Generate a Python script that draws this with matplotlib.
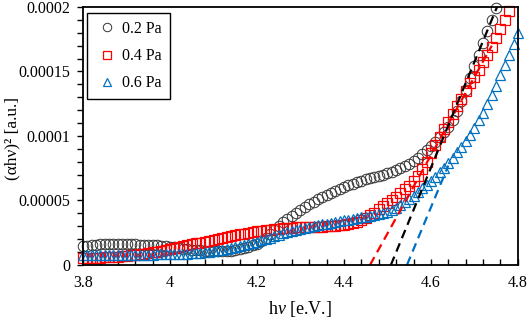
import numpy as np
import matplotlib
matplotlib.use("Agg")
import matplotlib.pyplot as plt
from matplotlib.ticker import MultipleLocator, FixedLocator, FixedFormatter

plt.rcParams['font.family'] = ['Liberation Serif', 'DejaVu Serif']
plt.rcParams['mathtext.fontset'] = 'custom'
plt.rcParams['mathtext.rm'] = 'Liberation Serif'
plt.rcParams['mathtext.it'] = 'Liberation Serif:italic'

# photon energy grid (eV), 0.01 eV steps
hv = np.round(np.arange(3.80, 4.805, 0.01), 2)

# (alpha h nu)^2 in units of 1e-5 a.u.
y_02 = np.array([
    1.45, 1.50, 1.55, 1.58, 1.60, 1.62, 1.63, 1.63, 1.63, 1.62,
    1.61, 1.60, 1.59, 1.58, 1.57, 1.56, 1.55, 1.53, 1.50, 1.45,
    1.40, 1.35, 1.30, 1.26, 1.22, 1.18, 1.15, 1.12, 1.10, 1.08,
    1.06, 1.05, 1.05, 1.07, 1.10, 1.15, 1.21, 1.29, 1.39, 1.51,
    1.65, 1.85, 2.10, 2.40, 2.70, 3.00, 3.30, 3.55, 3.80, 4.05,
    4.28, 4.50, 4.70, 4.90, 5.10, 5.28, 5.45, 5.61, 5.76, 5.90,
    6.03, 6.17, 6.30, 6.42, 6.53, 6.63, 6.73, 6.82, 6.91, 7.00,
    7.10, 7.21, 7.34, 7.49, 7.66, 7.85, 8.07, 8.32, 8.60, 8.90,
    9.22, 9.56, 9.92, 10.3, 10.7, 11.2, 11.9, 12.7, 13.6, 14.5,
    15.4, 16.3, 17.2, 18.1, 19.0, 19.9])

y_04 = np.array([
    0.55, 0.55, 0.56, 0.56, 0.57, 0.58, 0.60, 0.62, 0.64, 0.67,
    0.70, 0.73, 0.77, 0.81, 0.86, 0.91, 0.97, 1.03, 1.10, 1.17,
    1.24, 1.31, 1.38, 1.45, 1.52, 1.59, 1.66, 1.73, 1.80, 1.87,
    1.94, 2.01, 2.08, 2.15, 2.22, 2.29, 2.36, 2.42, 2.48, 2.54,
    2.60, 2.65, 2.70, 2.74, 2.78, 2.81, 2.84, 2.86, 2.88, 2.90,
    2.91, 2.92, 2.93, 2.94, 2.95, 2.96, 2.98, 3.00, 3.03, 3.07,
    3.12, 3.18, 3.26, 3.35, 3.50, 3.65, 3.85, 4.05, 4.30, 4.55,
    4.80, 5.05, 5.30, 5.55, 5.85, 6.15, 6.50, 6.90, 7.40, 8.00,
    8.70, 9.30, 9.90, 10.5, 11.1, 11.7, 12.3, 12.9, 13.5, 14.1,
    14.6, 15.1, 15.7, 16.3, 16.9, 17.6, 18.3, 19.0, 19.7])

y_06 = np.array([
    0.75, 0.75, 0.76, 0.76, 0.76, 0.77, 0.77, 0.77, 0.78, 0.78,
    0.78, 0.78, 0.79, 0.79, 0.79, 0.80, 0.80, 0.81, 0.81, 0.82,
    0.83, 0.84, 0.85, 0.86, 0.88, 0.90, 0.93, 0.96, 0.99, 1.03,
    1.07, 1.12, 1.17, 1.23, 1.29, 1.36, 1.44, 1.52, 1.61, 1.70,
    1.80, 1.90, 2.01, 2.12, 2.23, 2.34, 2.44, 2.54, 2.63, 2.72,
    2.80, 2.88, 2.95, 3.02, 3.09, 3.15, 3.21, 3.27, 3.33, 3.39,
    3.45, 3.51, 3.57, 3.63, 3.69, 3.75, 3.82, 3.89, 3.96, 4.04,
    4.13, 4.24, 4.45, 4.65, 4.88, 5.12, 5.38, 5.65, 5.93, 6.22,
    6.52, 6.84, 7.17, 7.52, 7.90, 8.30, 8.72, 9.16, 9.62, 10.1,
    10.6, 11.2, 11.8, 12.5, 13.2, 13.9, 14.7, 15.5, 16.3, 17.1,
    18.0])

# linear fits (Tauc extrapolation): x range and y values, 1e-5 units
fit_02_x = [4.508, 4.752]
fit_02_y = [0.0, 20.0]
fit_04_x = [4.460, 4.740]
fit_04_y = [0.0, 17.0]
fit_06_x = [4.545, 4.640]
fit_06_y = [0.0, 7.7]

labels = ['0.2 Pa', '0.4 Pa', '0.6 Pa']
xticks = [3.8, 4.0, 4.2, 4.4, 4.6, 4.8]
xticklabels = ['3.8', '4', '4.2', '4.4', '4.6', '4.8']
yticks = [0, 0.00005, 0.0001, 0.00015, 0.0002]
yticklabels = ['0', '0.00005', '0.0001', '0.00015', '0.0002']

scale = 1e-5
black = '#333333'
red = '#FF0000'
blue = '#0070C0'

fig = plt.figure(figsize=(5.29, 3.18), dpi=100)
ax = fig.add_axes([0.157, 0.167, 0.822, 0.811])

ax.plot(hv[:len(y_02)], y_02 * scale, linestyle='none', marker='o', ms=7.6,
        mfc='none', mec=black, mew=0.7, label=labels[0], clip_on=False)
ax.plot(hv[:len(y_04)], y_04 * scale, linestyle='none', marker='s', ms=7.2,
        mfc='none', mec=red, mew=0.9, label=labels[1], clip_on=False)
ax.plot(hv[:len(y_06)], y_06 * scale, linestyle='none', marker='^', ms=7.8,
        mfc='none', mec=blue, mew=0.9, label=labels[2], clip_on=False)

dash = (0, (4, 2.5))
ax.plot(fit_04_x, np.array(fit_04_y) * scale, color=red, lw=1.6, linestyle=dash)
ax.plot(fit_02_x, np.array(fit_02_y) * scale, color='black', lw=1.6, linestyle=dash)
ax.plot(fit_06_x, np.array(fit_06_y) * scale, color=blue, lw=1.6, linestyle=dash)

ax.set_xlim(3.8, 4.8)
ax.set_ylim(0, 0.0002)
ax.xaxis.set_major_locator(FixedLocator(xticks))
ax.xaxis.set_major_formatter(FixedFormatter(xticklabels))
ax.yaxis.set_major_locator(FixedLocator(yticks))
ax.yaxis.set_major_formatter(FixedFormatter(yticklabels))
ax.xaxis.set_minor_locator(MultipleLocator(0.04))
ax.yaxis.set_minor_locator(MultipleLocator(0.00001))
ax.tick_params(axis='x', which='both', direction='in', length=4, width=1, labelsize=11.5, pad=7)
ax.tick_params(axis='y', which='both', direction='out', length=4, width=1, labelsize=11.5, pad=5)
for s in ax.spines.values():
    s.set_linewidth(1.3)

ax.set_xlabel('h$\\mathit{v}$ [e.V.]', fontsize=13, labelpad=6)
ax.set_ylabel('(\u03b1h\u03bd)\u00b2 [a.u.]', fontsize=12.5)
ax.yaxis.set_label_coords(-0.145, 0.49)

leg = ax.legend(loc='upper left', bbox_to_anchor=(0.009, 0.977), borderaxespad=0,
                fontsize=11.5, handlelength=1.5, handletextpad=0.2, labelspacing=0.7,
                borderpad=0.5, markerscale=0.8, fancybox=False, edgecolor='black',
                framealpha=1)
leg.get_frame().set_linewidth(1.0)

fig.savefig('out.png', dpi=100)
